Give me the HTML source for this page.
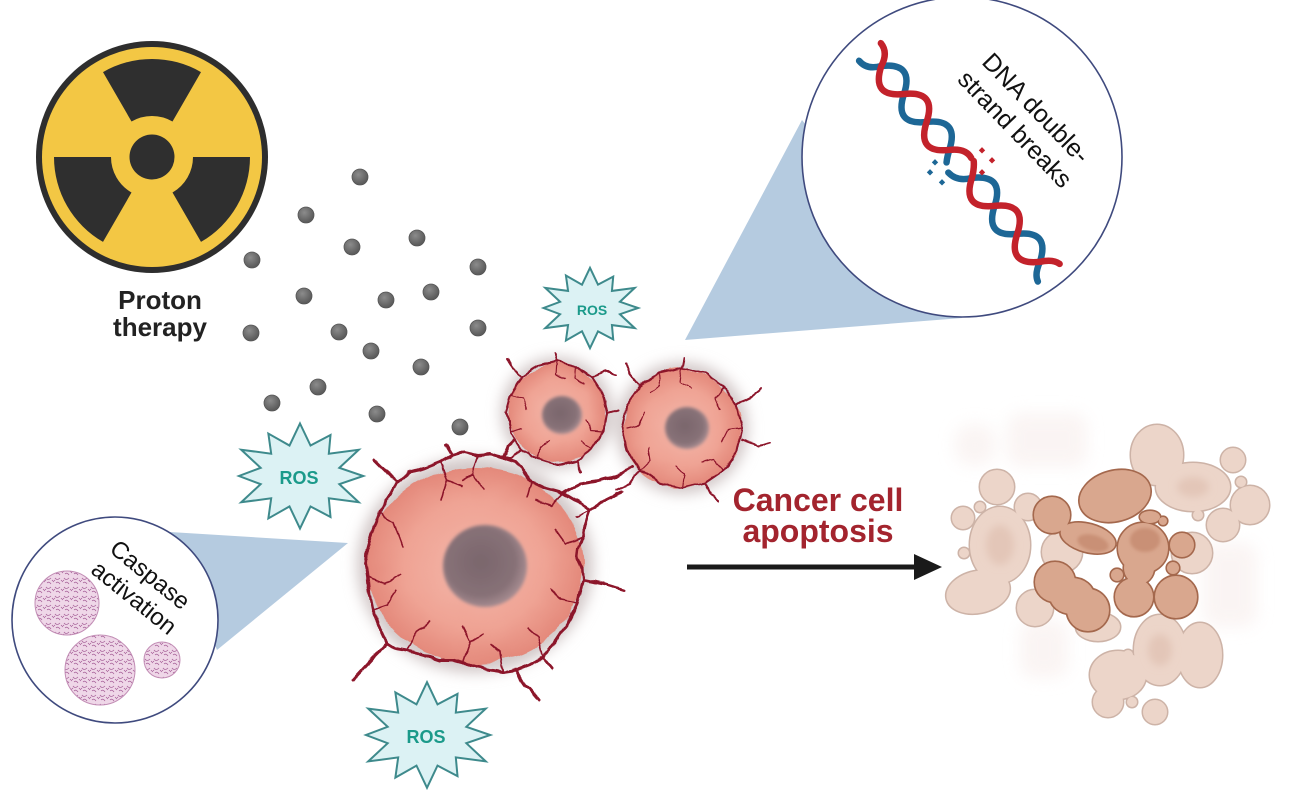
<!DOCTYPE html>
<html><head><meta charset="utf-8">
<style>html,body{margin:0;padding:0;background:#fff;}svg{display:block}</style>
</head><body>
<svg xmlns="http://www.w3.org/2000/svg" width="1292" height="797" viewBox="0 0 1292 797" font-family="'Liberation Sans', Arial, sans-serif">
<defs>
  <filter id="g7" x="-40%" y="-40%" width="180%" height="180%"><feGaussianBlur stdDeviation="7"/></filter>
  <filter id="g4" x="-40%" y="-40%" width="180%" height="180%"><feGaussianBlur stdDeviation="4"/></filter>
  <filter id="g8" x="-50%" y="-50%" width="200%" height="200%"><feGaussianBlur stdDeviation="8"/></filter>
  <filter id="g15" x="-20%" y="-20%" width="140%" height="140%"><feGaussianBlur stdDeviation="1.5"/></filter>
  <filter id="wig" x="-10%" y="-10%" width="120%" height="120%">
    <feTurbulence type="fractalNoise" baseFrequency="0.07" numOctaves="2" seed="4" result="n"/>
    <feDisplacementMap in="SourceGraphic" in2="n" scale="5" xChannelSelector="R" yChannelSelector="G"/>
  </filter>
  <filter id="lump" x="-10%" y="-10%" width="120%" height="120%">
    <feTurbulence type="fractalNoise" baseFrequency="0.035" numOctaves="2" seed="7" result="n"/>
    <feDisplacementMap in="SourceGraphic" in2="n" scale="9" xChannelSelector="R" yChannelSelector="G"/>
  </filter>
  <radialGradient id="cellg" cx="0.5" cy="0.5" r="0.5">
    <stop offset="0" stop-color="#f4b7aa"/><stop offset="0.65" stop-color="#efa394"/><stop offset="1" stop-color="#e4897b"/>
  </radialGradient>
  <radialGradient id="nucg" cx="0.45" cy="0.45" r="0.55">
    <stop offset="0" stop-color="#7a666c"/><stop offset="0.75" stop-color="#877177"/><stop offset="1" stop-color="#a48a8f"/>
  </radialGradient>
  <radialGradient id="dotg" cx="0.4" cy="0.35" r="0.6">
    <stop offset="0" stop-color="#8c8c8c"/><stop offset="1" stop-color="#5c5c5c"/>
  </radialGradient>
  <pattern id="casp" width="9" height="9" patternUnits="userSpaceOnUse">
    <rect width="9" height="9" fill="#efd7e8"/>
    <path d="M1,2 q2,3 5,0 M2,7 q2,-2 4,1 M7,4 l2,2 M0,5 l1,-1" stroke="#a8639a" stroke-width="0.8" fill="none"/>
  </pattern>
  <polygon id="star" vector-effect="non-scaling-stroke" points="0,-60 9.3,-34.8 27,-46.8 25.5,-25.5 52,-30 34.8,-9.3 56,0 34.8,9.3 52,30 25.5,25.5 27,46.8 9.3,34.8 0,60 -9.3,34.8 -28,48.5 -25.5,25.5 -52,30 -34.8,9.3 -54,0 -34.8,-9.3 -52,-30 -25.5,-25.5 -28,-48.5 -9.3,-34.8"/>
  <g id="dks">
    <ellipse cx="1115" cy="496" rx="36" ry="25" transform="rotate(-15 1115 496)"/>
    <circle cx="1052" cy="515" r="18"/>
    <ellipse cx="1088" cy="538" rx="28" ry="14" transform="rotate(15 1088 538)"/>
    <circle cx="1143" cy="548" r="25"/>
    <ellipse cx="1139" cy="568" rx="15" ry="16"/>
    <circle cx="1055" cy="582" r="20"/>
    <circle cx="1088" cy="610" r="21"/>
    <ellipse cx="1072" cy="596" rx="22" ry="18"/>
    <circle cx="1134" cy="597" r="19"/>
    <circle cx="1176" cy="597" r="21"/>
    <circle cx="1182" cy="545" r="12"/>
    <circle cx="1117" cy="575" r="6"/>
    <circle cx="1173" cy="568" r="6"/>
    <ellipse cx="1150" cy="517" rx="10" ry="6"/>
    <circle cx="1163" cy="521" r="4"/>
  </g>
  <g id="lts">
    <ellipse cx="1000" cy="545" rx="30" ry="38"/>
    <ellipse cx="978" cy="592" rx="32" ry="21" transform="rotate(-12 978 592)"/>
    <circle cx="997" cy="487" r="17"/>
    <circle cx="963" cy="518" r="11"/>
    <circle cx="980" cy="507" r="5"/>
    <circle cx="1028" cy="507" r="13"/>
    <circle cx="1035" cy="608" r="18"/>
    <circle cx="1062" cy="552" r="20"/>
    <ellipse cx="1157" cy="455" rx="26" ry="30"/>
    <ellipse cx="1193" cy="487" rx="37" ry="24"/>
    <circle cx="1250" cy="505" r="19"/>
    <circle cx="1233" cy="460" r="12"/>
    <circle cx="1241" cy="482" r="5"/>
    <circle cx="1223" cy="525" r="16"/>
    <circle cx="1198" cy="515" r="5"/>
    <circle cx="1192" cy="553" r="20"/>
    <ellipse cx="1160" cy="650" rx="26" ry="35"/>
    <ellipse cx="1200" cy="655" rx="22" ry="32"/>
    <ellipse cx="1118" cy="675" rx="28" ry="24"/>
    <circle cx="1108" cy="702" r="15"/>
    <circle cx="1155" cy="712" r="12"/>
    <circle cx="1132" cy="702" r="5"/>
    <circle cx="1128" cy="655" r="5"/>
    <ellipse cx="1098" cy="627" rx="22" ry="14"/>
    <circle cx="964" cy="553" r="5"/>
  </g>
</defs>

<rect width="1292" height="797" fill="#ffffff"/>

<!-- Radiation symbol -->
<circle cx="152" cy="157" r="116" fill="#2e2e2e"/>
<circle cx="152" cy="157" r="110" fill="#f3c744"/>
<g fill="#2f2f2f">
  <path d="M201,72.1 A98,98 0 0 0 103,72.1 L131.5,121.5 A41,41 0 0 1 172.5,121.5 Z"/>
  <path d="M54,157 A98,98 0 0 0 103,241.9 L131.5,192.5 A41,41 0 0 1 111,157 Z"/>
  <path d="M201,241.9 A98,98 0 0 0 250,157 L193,157 A41,41 0 0 1 172.5,192.5 Z"/>
  <circle cx="152" cy="157" r="22.5"/>
</g>
<text x="160" y="309" font-size="26" font-weight="bold" text-anchor="middle" fill="#222">Proton</text>
<text x="160" y="336" font-size="26" font-weight="bold" text-anchor="middle" fill="#222">therapy</text>

<!-- proton dots -->
<g fill="url(#dotg)" stroke="#555" stroke-width="0.8">
  <circle cx="360" cy="177" r="8"/><circle cx="306" cy="215" r="8"/><circle cx="352" cy="247" r="8"/>
  <circle cx="417" cy="238" r="8"/><circle cx="252" cy="260" r="8"/><circle cx="478" cy="267" r="8"/>
  <circle cx="304" cy="296" r="8"/><circle cx="386" cy="300" r="8"/><circle cx="431" cy="292" r="8"/>
  <circle cx="251" cy="333" r="8"/><circle cx="339" cy="332" r="8"/><circle cx="478" cy="328" r="8"/>
  <circle cx="371" cy="351" r="8"/><circle cx="421" cy="367" r="8"/><circle cx="318" cy="387" r="8"/>
  <circle cx="272" cy="403" r="8"/><circle cx="377" cy="414" r="8"/><circle cx="460" cy="427" r="8"/>
</g>

<!-- DNA callout -->
<polygon points="685,340 802,120 962,318" fill="#b5cbe0"/>
<circle cx="962" cy="157" r="160" fill="#ffffff" stroke="#3f4a7e" stroke-width="1.6"/>
<g transform="translate(870,52) rotate(51)" fill="none" stroke-width="6.5" stroke-linecap="round">
  <path d="M0,14 Q12,14 18,0 Q36,-28 54,0 T90,0 T126,0 Q130,6 134,10" stroke="#1d6796"/>
  <path d="M0,-14 Q12,-14 18,0 Q36,28 54,0 T90,0 T126,0 Q135,-14 146,-12" stroke="#c3222b"/>
  <path d="M143,15 Q156,14 162,0 Q180,-28 198,0 T234,0 T270,0 Q276,12 284,14" stroke="#1d6796"/>
  <path d="M150,-12 Q156,-8 162,0 Q180,28 198,0 T234,0 T270,0 Q276,-12 284,-14" stroke="#c3222b"/>
</g>
<g fill="#1d6796">
  <rect x="933" y="160" width="4.5" height="4.5" transform="rotate(45 935 162)"/>
  <rect x="928" y="170" width="4.5" height="4.5" transform="rotate(45 930 172)"/>
  <rect x="940" y="180" width="4.5" height="4.5" transform="rotate(45 942 182)"/>
</g>
<g fill="#c3222b">
  <rect x="980" y="148" width="4.5" height="4.5" transform="rotate(45 982 150)"/>
  <rect x="990" y="158" width="4.5" height="4.5" transform="rotate(45 992 160)"/>
  <rect x="980" y="170" width="4.5" height="4.5" transform="rotate(45 982 172)"/>
</g>
<text transform="translate(1030,114) rotate(46)" font-size="25" text-anchor="middle" fill="#111">DNA double-</text>
<text transform="translate(1009,135) rotate(46)" font-size="25" text-anchor="middle" fill="#111">strand breaks</text>

<!-- Caspase callout -->
<polygon points="348,543 170,532 217,650" fill="#b5cbe0"/>
<circle cx="115" cy="620" r="103" fill="#ffffff" stroke="#3f4a7e" stroke-width="1.6"/>
<g stroke="#c28db5" stroke-width="1">
  <circle cx="67" cy="603" r="32" fill="url(#casp)"/>
  <circle cx="100" cy="670" r="35" fill="url(#casp)"/>
  <circle cx="162" cy="660" r="18" fill="url(#casp)"/>
</g>
<text transform="translate(145,581) rotate(39)" font-size="24" text-anchor="middle" fill="#111">Caspase</text>
<text transform="translate(129,604) rotate(39)" font-size="24" text-anchor="middle" fill="#111">activation</text>

<!-- ROS stars -->
<use href="#star" transform="translate(300,476) scale(1.13,0.875)" fill="#dcf2f4" stroke="#3e8a8c" stroke-width="2"/>
<use href="#star" transform="translate(427,735) scale(1.13,0.88)" fill="#dcf2f4" stroke="#3e8a8c" stroke-width="2"/>
<use href="#star" transform="translate(590,308) scale(0.86,0.67)" fill="#dcf2f4" stroke="#3e8a8c" stroke-width="2"/>
<text x="299" y="484" font-size="18" font-weight="bold" text-anchor="middle" fill="#1b9a8a">ROS</text>
<text x="426" y="743" font-size="18" font-weight="bold" text-anchor="middle" fill="#1b9a8a">ROS</text>
<text x="592" y="315" font-size="14" font-weight="bold" text-anchor="middle" fill="#1b9a8a">ROS</text>

<!-- cell glows -->
<g fill="#d2c8c8" filter="url(#g7)">
  <ellipse cx="475" cy="565" rx="118" ry="108"/>
  <circle cx="557" cy="413" r="56"/>
  <circle cx="682" cy="428" r="66"/>
</g>
<!-- cell bodies -->
<g filter="url(#lump)">
  <ellipse cx="475" cy="565" rx="108" ry="98" fill="url(#cellg)"/>
  <circle cx="557" cy="413" r="49" fill="url(#cellg)"/>
  <circle cx="682" cy="428" r="59" fill="url(#cellg)"/>
</g>
<g fill="url(#nucg)" filter="url(#g15)">
  <ellipse cx="485" cy="566" rx="42" ry="41"/>
  <ellipse cx="562" cy="415" rx="20" ry="19"/>
  <ellipse cx="687" cy="428" rx="22" ry="21"/>
</g>

<!-- vessels -->
<g fill="none" stroke="#8c1229" stroke-linecap="round" stroke-linejoin="round" filter="url(#wig)">
  <path stroke-width="3" d="M397,482 L410,472 L425,468 L440,462 L452,455 L465,452 L478,455 L490,454 L503,458 L515,462 L523,470 L532,482 L545,488 L563,493 L578,502 L590,510 L585,525 L583,537 L578,548 L577,557 L582,568 L583,580 L580,592 L577,603 L570,618 L563,630 L553,645 L543,657 L530,665 L517,670 L503,672 L490,670 L476,667 L463,663 L452,660 L440,660 L425,655 L407,650 L395,648 L387,643 L380,628 L373,610 L370,595 L368,577 L366,562 L367,550 L372,532 L380,513 L386,500 L393,490 Z"/>
  <path stroke-width="3" d="M397,482 L386,471 L374,459 M452,455 L446,445 M503,458 L508,446 L514,440 M590,510 L606,500 L622,492 M563,493 L580,484 L598,481 L616,476 L632,466 M583,580 L604,584 L624,590 M517,670 L526,686 L538,700 M387,643 L372,658 L352,680 M543,657 L552,668"/>
  <path stroke-width="1.6" d="M440,462 L447,480 L441,500 M447,480 L462,486 M478,455 L473,474 L484,490 M473,474 L462,480 M380,513 L394,522 L403,546 M368,577 L385,584 L400,575 M373,610 L388,605 L396,590 M407,650 L416,632 L430,622 M463,663 L470,642 L462,626 M470,642 L483,634 M503,672 L500,652 L492,645 M543,657 L538,637 L528,628 M577,603 L561,600 L550,589 M583,537 L566,544 L556,530 M563,493 L551,505 L536,500 M532,482 L527,496 M590,510 L575,516"/>
  <path stroke-width="2" d="M603,394 L607,413 L604,431 L592,449 L577,460 L557,465 L538,459 L521,449 L510,432 L506,413 L511,394 L522,377 L538,366 L557,361 L576,366 L592,377 Z"/>
  <path stroke-width="2" d="M522,377 L513,368 L508,360 M592,377 L604,371 L616,375 M577,460 L581,472 M521,449 L511,458 L503,458 M557,361 L555,352 M607,413 L618,410"/>
  <path stroke-width="1.2" d="M557,361 L556,374 L566,380 M604,431 L591,430 L586,420 M538,459 L540,446 L549,441 M511,394 L523,398 L527,410 M592,449 L581,442 M576,366 L575,378 L584,384 M510,432 L522,428"/>
  <path stroke-width="2" d="M736,405 L742,428 L737,451 L724,470 L705,483 L682,488 L659,483 L640,470 L627,451 L622,428 L627,405 L640,386 L659,373 L682,368 L705,373 L724,386 Z"/>
  <path stroke-width="2" d="M737,405 L751,396 L761,388 M742,440 L758,446 L770,443 M640,386 L630,374 L626,363 M705,483 L711,495 L719,500 M640,470 L630,484 L617,490 M682,368 L684,358"/>
  <path stroke-width="1.2" d="M682,368 L680,382 L692,388 M724,386 L715,398 L720,410 M742,428 L728,430 L722,442 M724,470 L714,460 L702,463 M682,488 L684,474 L676,466 M640,470 L650,460 L648,448 M627,428 L640,425 L645,412 M659,373 L660,386 L650,392"/>
</g>

<!-- arrow + label -->
<text x="818" y="511" font-size="32" font-weight="bold" text-anchor="middle" fill="#a3242e">Cancer cell</text>
<text x="818" y="542" font-size="32" font-weight="bold" text-anchor="middle" fill="#a3242e">apoptosis</text>
<line x1="687" y1="567" x2="920" y2="567" stroke="#1a1a1a" stroke-width="5"/>
<polygon points="914,554 942,567 914,580" fill="#1a1a1a"/>

<!-- apoptotic bodies -->
<g fill="#f7ecea" filter="url(#g8)" opacity="0.55">
  <rect x="1007" y="413" width="80" height="54" rx="14"/>
  <rect x="1203" y="543" width="54" height="84" rx="14"/>
  <rect x="1020" y="620" width="48" height="58" rx="14"/>
  <rect x="955" y="425" width="40" height="40" rx="14"/>
</g>
<use href="#lts" fill="#cdb3a7" stroke="#cdb3a7" stroke-width="3"/>
<use href="#lts" fill="#ecd5c9" stroke="none"/>
<g fill="#e3c6b8" filter="url(#g4)">
  <ellipse cx="1000" cy="545" rx="14" ry="20"/>
  <ellipse cx="1193" cy="487" rx="16" ry="10"/>
  <ellipse cx="1160" cy="650" rx="12" ry="16"/>
</g>
<use href="#dks" fill="#a4684d" stroke="#a4684d" stroke-width="3.2"/>
<use href="#dks" fill="#d9a78e" stroke="none"/>
<g fill="#c99076" filter="url(#g15)">
  <ellipse cx="1093" cy="543" rx="16" ry="8" transform="rotate(15 1093 543)"/>
  <ellipse cx="1145" cy="540" rx="15" ry="12"/>
</g>
</svg>
</body></html>
